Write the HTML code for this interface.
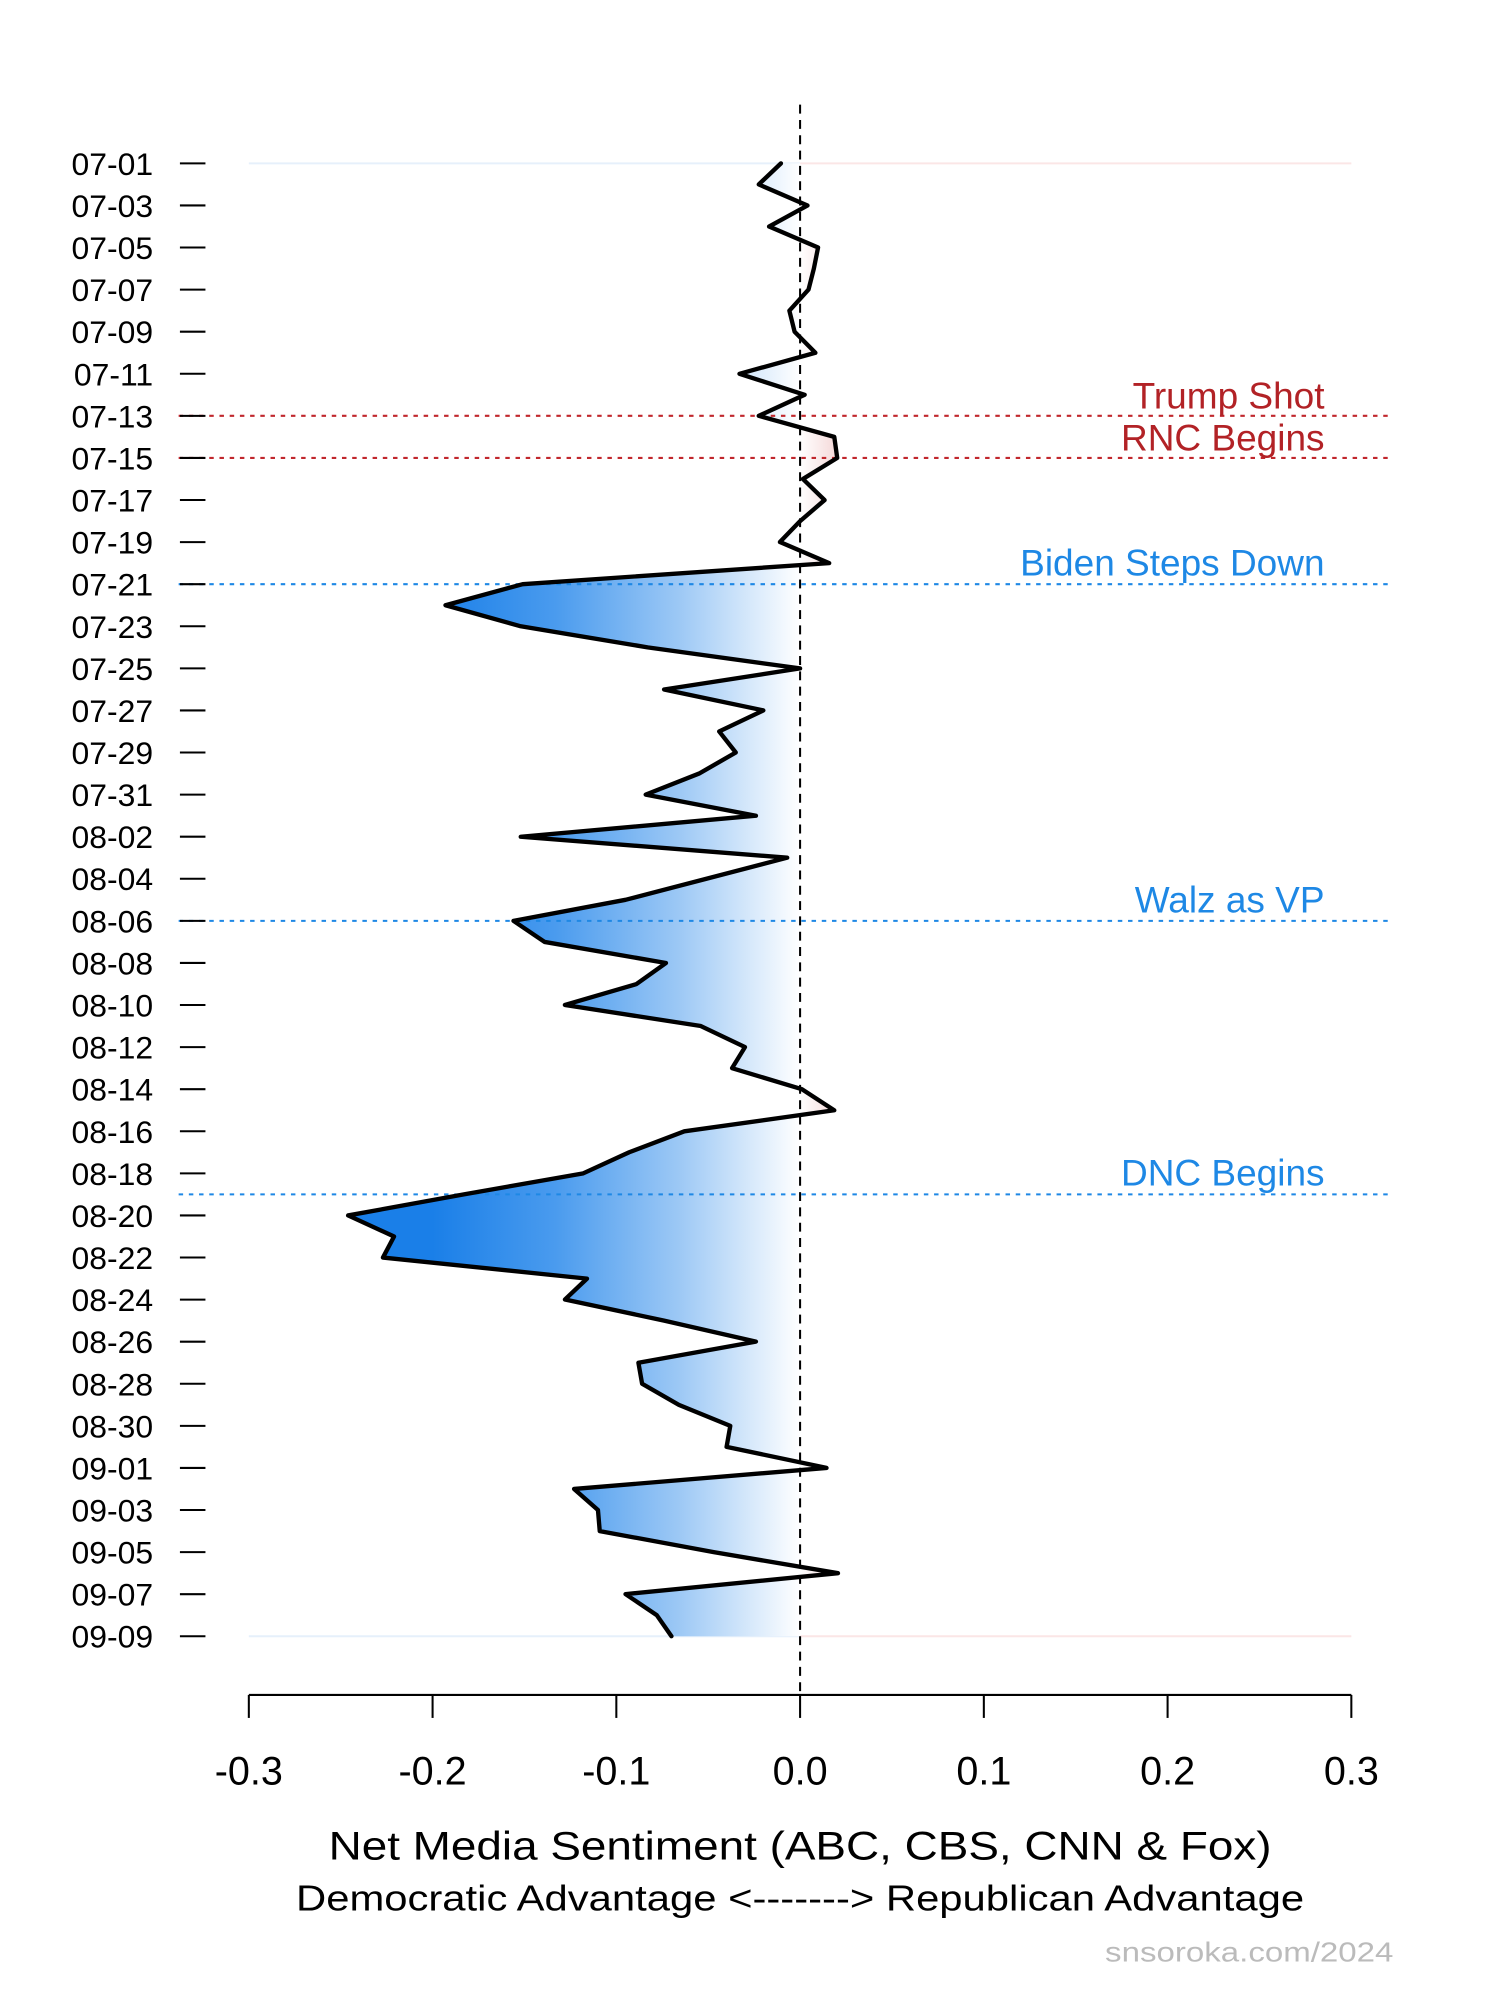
<!DOCTYPE html>
<html><head><meta charset="utf-8"><style>
html,body{margin:0;padding:0;background:#fff;}
svg{display:block;}
text{font-family:"Liberation Sans",Arial,sans-serif;}
</style></head><body>
<svg id="s" width="1500" height="2000" viewBox="0 0 1175.5 1567" preserveAspectRatio="none" xmlns="http://www.w3.org/2000/svg">
<defs>
<linearGradient id="g" gradientUnits="userSpaceOnUse" x1="339" y1="0" x2="660" y2="0">
<stop offset="0" stop-color="#1a7fe8"/>
<stop offset="0.3" stop-color="#4a9bee"/>
<stop offset="0.6" stop-color="#9cc8f5"/>
<stop offset="0.897" stop-color="#ffffff"/>
<stop offset="1" stop-color="#f3d3d3"/>
</linearGradient>
</defs>
<line x1="195" y1="128" x2="627" y2="128" stroke="#e6f0fb" stroke-width="1.5"/>
<line x1="627" y1="128" x2="1059" y2="128" stroke="#fbe6e6" stroke-width="1.5"/>
<line x1="195" y1="1282" x2="627" y2="1282" stroke="#e6f0fb" stroke-width="1.5"/>
<line x1="627" y1="1282" x2="1059" y2="1282" stroke="#fbe6e6" stroke-width="1.5"/>
<g id="fillg"></g>
<g stroke-width="1.6" stroke-dasharray="3.5,4.5" fill="none">
<line x1="140" y1="325.8" x2="1090" y2="325.8" stroke="#c1272d"/>
<line x1="140" y1="358.8" x2="1090" y2="358.8" stroke="#c1272d"/>
<line x1="140" y1="457.7" x2="1090" y2="457.7" stroke="#1e88e5"/>
<line x1="140" y1="721.5" x2="1090" y2="721.5" stroke="#1e88e5"/>
<line x1="140" y1="935.8" x2="1090" y2="935.8" stroke="#1e88e5"/>
</g>
<line x1="627" y1="82" x2="627" y2="1328" stroke="#000" stroke-width="1.6" stroke-dasharray="7,5"/>
<g id="lineg"></g>
<g font-size="29" text-anchor="end">
<text x="1038" y="320" fill="#b22226">Trump Shot</text>
<text x="1038" y="353" fill="#b22226">RNC Begins</text>
<text x="1038" y="451" fill="#1e88e5">Biden Steps Down</text>
<text x="1038" y="715" fill="#1e88e5">Walz as VP</text>
<text x="1038" y="929" fill="#1e88e5">DNC Begins</text>
</g>
<g id="yl" font-size="25" text-anchor="end" fill="#000"></g>
<line x1="195" y1="1328" x2="1059" y2="1328" stroke="#000" stroke-width="1.6"/>
<g id="xt" stroke="#000" stroke-width="1.6"></g>
<g font-size="31" text-anchor="middle" fill="#000">
<text x="195" y="1398">-0.3</text>
<text x="339" y="1398">-0.2</text>
<text x="483" y="1398">-0.1</text>
<text x="627" y="1398">0.0</text>
<text x="771" y="1398">0.1</text>
<text x="915" y="1398">0.2</text>
<text x="1059" y="1398">0.3</text>
</g>
<text x="627" y="1457" font-size="31" text-anchor="middle" textLength="739" lengthAdjust="spacingAndGlyphs">Net Media Sentiment (ABC, CBS, CNN &amp; Fox)</text>
<text x="627" y="1497" font-size="28" text-anchor="middle" textLength="790" lengthAdjust="spacingAndGlyphs">Democratic Advantage &lt;-------&gt; Republican Advantage</text>
<text x="1092" y="1537" font-size="22" text-anchor="end" fill="#bbbbbb" textLength="226" lengthAdjust="spacingAndGlyphs">snsoroka.com/2024</text>
</svg>
<script>
var v=[-0.0104,-0.0225,0.004,-0.0169,0.0098,0.0075,0.0046,-0.0058,-0.003,0.0083,-0.033,0.0025,-0.0225,0.0186,0.0202,0.0015,0.0133,0.0,-0.011,0.0158,-0.151,-0.193,-0.152,-0.083,0.0,-0.074,-0.020,-0.044,-0.035,-0.055,-0.084,
-0.024,-0.152,-0.007,-0.051,-0.095,-0.156,-0.139,-0.073,-0.089,-0.128,-0.054,-0.030,-0.037,0.001,0.0186,-0.063,-0.093,-0.118,-0.183,-0.246,-0.221,-0.227,-0.116,-0.128,-0.074,-0.024,-0.088,-0.086,-0.066,-0.038,-0.040,
0.0144,-0.123,-0.110,-0.109,-0.047,0.0206,-0.095,-0.078,-0.070];
var NS="http://www.w3.org/2000/svg";
function Y(d){return 128+16.486*d;}
function X(x){return 627+1440*x;}
var pts=v.map(function(x,i){return X(x).toFixed(1)+","+Y(i).toFixed(1);});
var poly=document.createElementNS(NS,"polygon");
poly.setAttribute("points","627,"+Y(0)+" "+pts.join(" ")+" 627,"+Y(70));
poly.setAttribute("fill","url(#g)");
document.getElementById("fillg").appendChild(poly);
var pl=document.createElementNS(NS,"polyline");
pl.setAttribute("points",pts.join(" "));
pl.setAttribute("fill","none");pl.setAttribute("stroke","#000");pl.setAttribute("stroke-width","3.4");pl.setAttribute("stroke-linejoin","round");pl.setAttribute("stroke-linecap","round");
document.getElementById("lineg").appendChild(pl);
var yl=document.getElementById("yl");
for(var d=0;d<=70;d+=2){
  var m,day;
  if(d<31){m=7;day=d+1;}else if(d<62){m=8;day=d-30;}else{m=9;day=d-61;}
  var t=document.createElementNS(NS,"text");
  t.setAttribute("x","120");t.setAttribute("y",(Y(d)+9).toFixed(1));
  t.textContent="0"+m+"-"+(day<10?"0"+day:day);
  yl.appendChild(t);
  var l=document.createElementNS(NS,"line");
  l.setAttribute("x1","141");l.setAttribute("x2","161");l.setAttribute("y1",Y(d));l.setAttribute("y2",Y(d));
  l.setAttribute("stroke","#000");l.setAttribute("stroke-width","1.6");
  yl.appendChild(l);
}
var xt=document.getElementById("xt");
for(var i=0;i<7;i++){var l=document.createElementNS(NS,"line");var x=195+144*i;
l.setAttribute("x1",x);l.setAttribute("x2",x);l.setAttribute("y1","1328");l.setAttribute("y2","1346");xt.appendChild(l);}
</script>
</body></html>
